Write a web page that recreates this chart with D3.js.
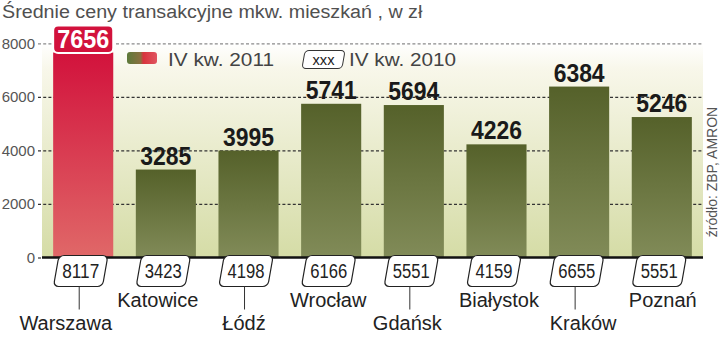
<!DOCTYPE html>
<html>
<head>
<meta charset="utf-8">
<script src="https://cdn.jsdelivr.net/npm/d3@7"></script>
<style>
  body { margin: 0; background: #fff; }
  svg { display: block; }
</style>
</head>
<body>
<div id="chart"></div>
<script>
// Chart data
const cities = ["Warszawa", "Katowice", "Łódź", "Wrocław", "Gdańsk", "Białystok", "Kraków", "Poznań"];
const price2011 = [7656, 3285, 3995, 5741, 5694, 4226, 6384, 5246];
const price2010 = [8117, 3423, 4198, 6166, 5551, 4159, 6655, 5551];
const yTicks = [0, 2000, 4000, 6000, 8000];

const width = 720;
const height = 338;
const plot = {left: 42, right: 703, top: 43.3, bottom: 257.5};
const sans = "Liberation Sans, Arial, sans-serif";
// horizontal nudge of each city name relative to its bar centre
const cityNudge = [-17.5, -8, -4.5, -3, -6.5, 2.5, 4, 1];

const svg = d3.select("#chart")
  .append("svg")
  .attr("width", width)
  .attr("height", height);

const defs = svg.append("defs");

// background gradient of plot area
const bgGrad = defs.append("linearGradient").attr("id", "bg")
  .attr("x1", 0).attr("y1", 0).attr("x2", 0).attr("y2", 1);
bgGrad.append("stop").attr("offset", "0%").attr("stop-color", "#ffffff");
bgGrad.append("stop").attr("offset", "12%").attr("stop-color", "#f8f7ea");
bgGrad.append("stop").attr("offset", "100%").attr("stop-color", "#d5dca6");

// bar gradients
const greenGrad = defs.append("linearGradient").attr("id", "green")
  .attr("x1", 0).attr("y1", 0).attr("x2", 0).attr("y2", 1);
greenGrad.append("stop").attr("offset", "0%").attr("stop-color", "#55612a");
greenGrad.append("stop").attr("offset", "100%").attr("stop-color", "#818b58");

const redGrad = defs.append("linearGradient").attr("id", "red")
  .attr("x1", 0).attr("y1", 0).attr("x2", 0).attr("y2", 1);
redGrad.append("stop").attr("offset", "0%").attr("stop-color", "#d2123c");
redGrad.append("stop").attr("offset", "100%").attr("stop-color", "#e06868");

// legend swatch gradient
const legGrad = defs.append("linearGradient").attr("id", "leg")
  .attr("x1", 0).attr("y1", 0).attr("x2", 1).attr("y2", 0);
legGrad.append("stop").attr("offset", "0%").attr("stop-color", "#5c7a3a");
legGrad.append("stop").attr("offset", "45%").attr("stop-color", "#8a7040");
legGrad.append("stop").attr("offset", "55%").attr("stop-color", "#d8343e");
legGrad.append("stop").attr("offset", "100%").attr("stop-color", "#e05560");

// scales
const y = d3.scaleLinear()
  .domain([0, 8000])
  .range([plot.bottom, plot.top]);

const x = d3.scaleBand()
  .domain(d3.range(cities.length))
  .range([plot.left, plot.right])
  .paddingInner(0.273)
  .paddingOuter(0.135);

// title (font is wider in the original, so stretch it a bit)
svg.append("text")
  .attr("transform", "translate(2,18) scale(1.095,1)")
  .attr("font-family", sans)
  .attr("font-size", "18px")
  .attr("fill", "#505050")
  .text("Średnie ceny transakcyjne mkw. mieszkań , w zł");

// plot background
svg.append("rect")
  .attr("x", plot.left)
  .attr("y", plot.top)
  .attr("width", plot.right - plot.left)
  .attr("height", plot.bottom - plot.top)
  .attr("fill", "url(#bg)");

// y axis with dashed gridlines
const yAxis = svg.append("g")
  .attr("transform", `translate(38,0)`)
  .call(d3.axisLeft(y)
    .tickValues(yTicks)
    .tickSize(-(plot.right - 38))
    .tickPadding(3)
    .tickFormat(d3.format("d")));

yAxis.select(".domain").remove();
yAxis.selectAll(".tick line")
  .attr("stroke", d => d === 8000 ? "#8a8a8a" : "#333")
  .attr("stroke-width", 1.2)
  .attr("stroke-dasharray", "3,2.2")
  .attr("x2", d => d === 0 ? 4 : plot.right - 38);
yAxis.selectAll(".tick text")
  .attr("font-family", sans)
  .attr("font-size", "15px")
  .attr("fill", "#555");

// bars
svg.selectAll(".bar")
  .data(price2011)
  .enter()
  .append("rect")
    .attr("class", "bar")
    .attr("x", (d, i) => x(i))
    .attr("y", d => y(d))
    .attr("width", x.bandwidth())
    .attr("height", d => plot.bottom - y(d))
    .attr("fill", (d, i) => i === 0 ? "url(#red)" : "url(#green)");

// baseline
svg.append("line")
  .attr("x1", plot.left)
  .attr("x2", plot.right)
  .attr("y1", plot.bottom)
  .attr("y2", plot.bottom)
  .attr("stroke", "#111")
  .attr("stroke-width", 2.5);

// value labels for 2011 (green bars)
svg.selectAll(".val")
  .data(price2011.slice(1))
  .enter()
  .append("text")
    .attr("class", "val")
    .attr("x", (d, i) => x(i + 1) + x.bandwidth() / 2)
    .attr("y", d => y(d) - 5)
    .attr("text-anchor", "middle")
    .attr("font-family", sans)
    .attr("font-weight", "bold")
    .attr("font-size", "26px")
    .attr("textLength", 51)
    .attr("lengthAdjust", "spacingAndGlyphs")
    .attr("fill", "#1a1a1a")
    .text(d => d);

// Warszawa highlighted label
svg.append("rect")
  .attr("x", x(0))
  .attr("y", y(price2011[0]) - 27)
  .attr("width", x.bandwidth())
  .attr("height", 27.5)
  .attr("rx", 5)
  .attr("fill", "#d2123c")
  .attr("stroke", "#fff")
  .attr("stroke-width", 2);

svg.append("text")
  .attr("x", x(0) + x.bandwidth() / 2)
  .attr("y", y(price2011[0]) - 5)
  .attr("text-anchor", "middle")
  .attr("font-family", sans)
  .attr("font-weight", "bold")
  .attr("font-size", "26px")
  .attr("textLength", 52)
  .attr("lengthAdjust", "spacingAndGlyphs")
  .attr("fill", "#fff")
  .text(price2011[0]);

// 2010 value boxes (slanted rounded boxes)
const boxW = 49, boxH = 31;
const boxes = svg.selectAll(".box")
  .data(price2010)
  .enter()
  .append("g")
    .attr("class", "box")
    .attr("transform", (d, i) => `translate(${x(i) + x.bandwidth() / 2 - 2.5},${plot.bottom + 13.5})`);

boxes.append("rect")
  .attr("x", -boxW / 2)
  .attr("y", -boxH / 2)
  .attr("width", boxW)
  .attr("height", boxH)
  .attr("rx", 5)
  .attr("transform", "skewX(-10)")
  .attr("fill", "#fff")
  .attr("stroke", "#222")
  .attr("stroke-width", 1.2);

boxes.append("text")
  .attr("x", 0)
  .attr("y", 7)
  .attr("text-anchor", "middle")
  .attr("font-family", sans)
  .attr("font-size", "20px")
  .attr("textLength", 37)
  .attr("lengthAdjust", "spacingAndGlyphs")
  .attr("fill", "#222")
  .text(d => d);

// connector lines for alternate cities
boxes.filter((d, i) => i % 2 === 0)
  .append("line")
  .attr("x1", -1.5)
  .attr("x2", -1.5)
  .attr("y1", boxH / 2)
  .attr("y2", boxH / 2 + 23)
  .attr("stroke", "#333")
  .attr("stroke-width", 1);

// city labels
svg.selectAll(".city")
  .data(cities)
  .enter()
  .append("text")
    .attr("class", "city")
    .attr("x", (d, i) => x(i) + x.bandwidth() / 2 + cityNudge[i])
    .attr("y", (d, i) => i % 2 === 0 ? 330 : 307)
    .attr("text-anchor", "middle")
    .attr("font-family", sans)
    .attr("font-size", "20px")
    .attr("fill", "#222")
    .text(d => d);

// legend
svg.append("rect")
  .attr("x", 127)
  .attr("y", 52)
  .attr("width", 30)
  .attr("height", 12)
  .attr("rx", 3)
  .attr("fill", "url(#leg)");

svg.append("text")
  .attr("x", 168)
  .attr("y", 66)
  .attr("font-family", sans)
  .attr("font-size", "19px")
  .attr("textLength", 106)
  .attr("lengthAdjust", "spacingAndGlyphs")
  .attr("fill", "#444")
  .text("IV kw. 2011");

const legBox = svg.append("g").attr("transform", "translate(323.5,59.5)");
legBox.append("rect")
  .attr("x", -20)
  .attr("y", -9)
  .attr("width", 40)
  .attr("height", 18)
  .attr("rx", 4)
  .attr("transform", "skewX(-10)")
  .attr("fill", "#fff")
  .attr("stroke", "#333")
  .attr("stroke-width", 1);
legBox.append("text")
  .attr("x", 0)
  .attr("y", 5)
  .attr("text-anchor", "middle")
  .attr("font-family", sans)
  .attr("font-size", "15px")
  .attr("textLength", 22)
  .attr("lengthAdjust", "spacingAndGlyphs")
  .attr("fill", "#222")
  .text("xxx");

svg.append("text")
  .attr("x", 349)
  .attr("y", 66)
  .attr("font-family", sans)
  .attr("font-size", "19px")
  .attr("textLength", 107)
  .attr("lengthAdjust", "spacingAndGlyphs")
  .attr("fill", "#444")
  .text("IV kw. 2010");

// source
svg.append("text")
  .attr("transform", "translate(717,172) rotate(-90)")
  .attr("text-anchor", "middle")
  .attr("font-family", sans)
  .attr("font-size", "14px")
  .attr("fill", "#555")
  .text("źródło: ZBP, AMRON");
</script>
</body>
</html>
